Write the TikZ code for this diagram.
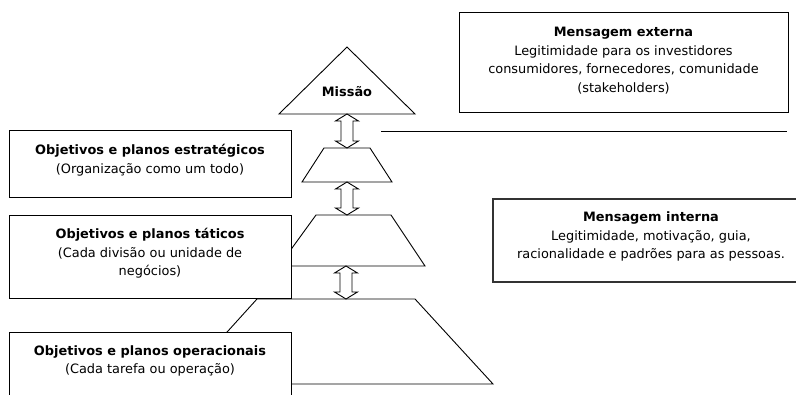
\documentclass[tikz,border=0pt]{standalone}
\usepackage{fontspec}
\setmainfont{DejaVu Sans}
\usetikzlibrary{calc}
\newcommand{\dblarr}[2]{%
  \draw[arrshape] (#1) -- ++(11.5,7) -- ++(-5.5,0) -- ($(#2)+(6,-7)$) -- ++(5.5,0) -- (#2)
    -- ++(-11.5,-7) -- ++(5.5,0) -- ($(#1)+(-6,7)$) -- ++(-5.5,0) -- cycle;}
\tikzset{
  x=1pt, y=-1pt,
  shp/.style={draw=black, line width=0.9pt, fill=white, line join=miter},
  arrshape/.style={draw=black, line width=0.9pt, fill=white},
  box/.style={draw=black, line width=1pt, fill=white},
  txt/.style={font=\fontsize{12.9}{18.5}\selectfont, align=center, inner sep=0pt, anchor=north},
}
\begin{document}
\begin{tikzpicture}
\useasboundingbox (0,0) rectangle (796,395);
\clip (0,0) rectangle (796,395);
% pyramid shapes
\draw[shp] (347,47) coordinate (apex) -- (415,114) coordinate (triR) -- (279,114) coordinate (triL) -- cycle;
\node[font=\fontsize{12.9}{15}\selectfont\bfseries, inner sep=0pt] (missao) at (347,92) {Missão};
\draw[shp] (324,148) coordinate (tr1tl) -- (370,148) -- (392,182) -- (302,182) coordinate (tr1bl) -- cycle;
\draw[shp] (316,215) coordinate (tr2tl) -- (391,215) -- (425,266) -- (279,266) coordinate (tr2bl) -- cycle;
\draw[shp] (257,299) coordinate (tr3tl) -- (415,299) -- (493,384) -- (180,384) coordinate (tr3bl) -- cycle;
% arrows
\coordinate (a1t) at (347,114); \coordinate (a1b) at (347,148);
\coordinate (a2t) at (347,182); \coordinate (a2b) at (347,215);
\coordinate (a3t) at (346,266); \coordinate (a3b) at (346,299);
\dblarr{a1t}{a1b}
\dblarr{a2t}{a2b}
\dblarr{a3t}{a3b}
% separator line
\coordinate (sepL) at (381,131); \coordinate (sepR) at (787,131);
\draw[line width=0.9pt] (sepL) -- (sepR);
% boxes
\draw[box] (9,131) rectangle (291,198);
\node[txt] (b1) at (150,144) {\textbf{Objetivos e planos estratégicos}\\(Organização como um todo)};
\draw[box] (9,216) rectangle (291,299);
\node[txt] (b2) at (150,228) {\textbf{Objetivos e planos táticos}\\(Cada divisão ou unidade de\\negócios)};
\draw[box] (9,333) rectangle (291,420);
\node[txt] (b3) at (150,345.5) {\textbf{Objetivos e planos operacionais}\\(Cada tarefa ou operação)};
\draw[box] (459,13) rectangle (788,113);
\node[txt] (ext) at (623.5,27) {\textbf{Mensagem externa}\\Legitimidade para os investidores\\consumidores, fornecedores, comunidade\\(stakeholders)};
\draw[box, draw=black!80, line width=1.3pt] (493,199) rectangle (815,282);
\node[txt] (int) at (651,212) {\textbf{Mensagem interna}\\Legitimidade, motivação, guia,\\racionalidade e padrões para as pessoas.};
\end{tikzpicture}
\end{document}
